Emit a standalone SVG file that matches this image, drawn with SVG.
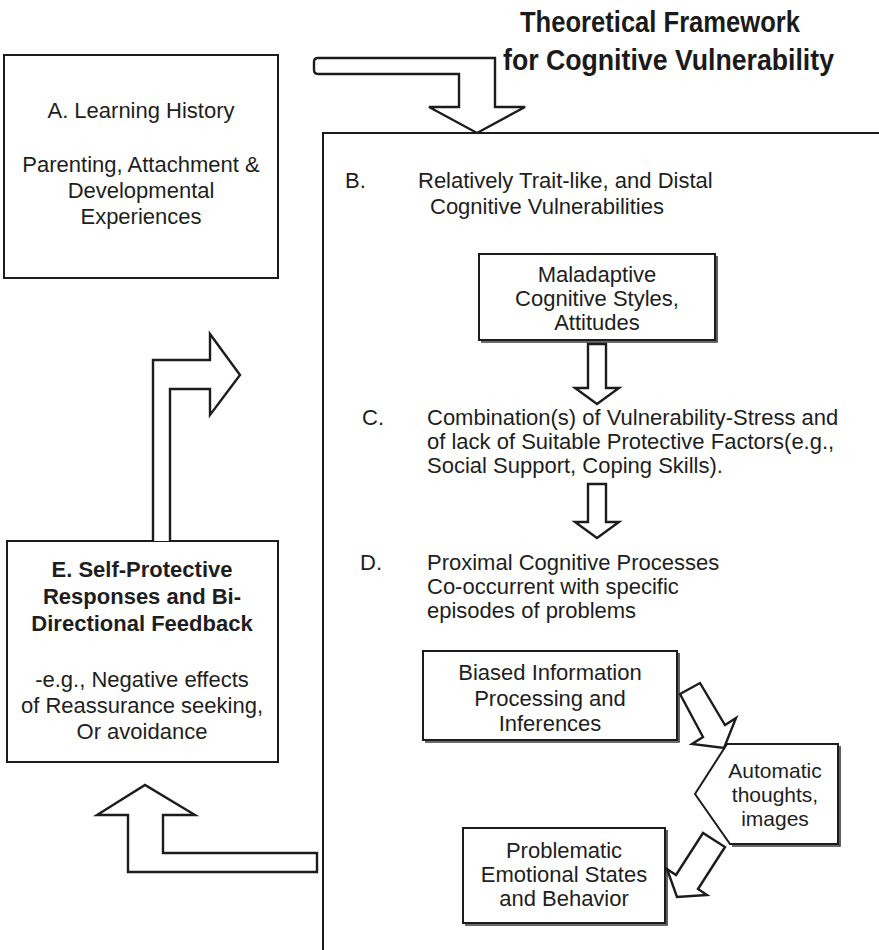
<svg xmlns="http://www.w3.org/2000/svg" width="879" height="950" viewBox="0 0 879 950">
  <style>
    .bg { fill: #ffffff; }
    .box { fill: #ffffff; stroke: #1c1c1c; stroke-width: 2; }
    .edge { fill: none; stroke: #3a3a3a; stroke-width: 1.6; }
    .frame { fill: none; stroke: #1c1c1c; stroke-width: 2; }
    .blk { fill: #ffffff; stroke: #1c1c1c; stroke-width: 2.4; stroke-linejoin: miter; }
    .t { font-family: "Liberation Sans", Arial, Helvetica, sans-serif; font-size: 22px; fill: #1e1e1e; }
    .c { text-anchor: middle; }
    .b { font-weight: bold; }
    .title { font-family: "Liberation Sans", Arial, Helvetica, sans-serif; font-size: 29px; font-weight: bold; fill: #1a1a1a; }
    .sm { font-size: 21px; }
  </style>

  <rect class="bg" x="0" y="0" width="879" height="950"/>

  <!-- heading -->
  <g id="title">
    <text class="title" x="520" y="32" textLength="280" lengthAdjust="spacingAndGlyphs">Theoretical Framework</text>
    <text class="title" x="503" y="70" textLength="331" lengthAdjust="spacingAndGlyphs">for Cognitive Vulnerability</text>
  </g>

  <!-- A: learning history -->
  <g id="nodeA">
    <rect class="box" x="4" y="55" width="274" height="223"/>
    <text class="t c" x="141" y="118">A. Learning History</text>
    <text class="t c" x="141" y="172">Parenting, Attachment &amp;</text>
    <text class="t c" x="141" y="198">Developmental</text>
    <text class="t c" x="141" y="224">Experiences</text>
  </g>

  <!-- large open frame holding B, C, D -->
  <g id="frameBCD">
    <path class="frame" d="M323,950 V133 H879"/>
  </g>

  <!-- B: distal vulnerabilities -->
  <g id="nodeB">
    <text class="t" x="345" y="188">B.</text>
    <text class="t" x="418" y="188">Relatively Trait-like, and Distal</text>
    <text class="t" x="430" y="214">Cognitive Vulnerabilities</text>
  </g>

  <g id="nodeMaladaptive">
    <rect class="box" x="479" y="254" width="236" height="86"/>
    <path class="edge" d="M717,256 V342 H481"/>
    <text class="t c" x="597" y="282">Maladaptive</text>
    <text class="t c" x="597" y="306">Cognitive Styles,</text>
    <text class="t c" x="597" y="330">Attitudes</text>
  </g>

  <!-- C: vulnerability-stress combination -->
  <g id="nodeC">
    <text class="t" x="362" y="425">C.</text>
    <text class="t" x="427" y="425">Combination(s) of Vulnerability-Stress and</text>
    <text class="t" x="427" y="449">of lack of Suitable Protective Factors(e.g.,</text>
    <text class="t" x="427" y="473">Social Support, Coping Skills).</text>
  </g>

  <!-- D: proximal processes -->
  <g id="nodeD">
    <text class="t" x="360" y="570">D.</text>
    <text class="t" x="427" y="570">Proximal Cognitive Processes</text>
    <text class="t" x="427" y="594">Co-occurrent with specific</text>
    <text class="t" x="427" y="618">episodes of problems</text>
  </g>

  <g id="nodeBiased">
    <rect class="box" x="423" y="651" width="254" height="89"/>
    <path class="edge" d="M679,653 V742 H425"/>
    <text class="t c" x="550" y="680">Biased Information</text>
    <text class="t c" x="550" y="706">Processing and</text>
    <text class="t c" x="550" y="731">Inferences</text>
  </g>

  <g id="nodeAutomatic">
    <polygon class="box" points="727,744 838,744 838,844 730,844 695,794"/>
    <path class="edge" d="M840,746 V846 H732"/>
    <text class="t c sm" x="775" y="778">Automatic</text>
    <text class="t c sm" x="775" y="802">thoughts,</text>
    <text class="t c sm" x="775" y="826">images</text>
  </g>

  <g id="nodeProblematic">
    <rect class="box" x="463" y="828" width="202" height="95"/>
    <path class="edge" d="M667,830 V925 H465"/>
    <text class="t c" x="564" y="858">Problematic</text>
    <text class="t c" x="564" y="882">Emotional States</text>
    <text class="t c" x="564" y="906">and Behavior</text>
  </g>

  <!-- E: self-protective responses -->
  <g id="nodeE">
    <rect class="box" x="7" y="541" width="271" height="221"/>
    <text class="t c b" x="142" y="577">E. Self-Protective</text>
    <text class="t c b" x="142" y="604">Responses and Bi-</text>
    <text class="t c b" x="142" y="631">Directional Feedback</text>
    <text class="t c" x="142" y="687">-e.g., Negative effects</text>
    <text class="t c" x="142" y="713">of Reassurance seeking,</text>
    <text class="t c" x="142" y="739">Or avoidance</text>
  </g>

  <!-- block arrows -->
  <g id="connectors">
    <!-- A into the frame -->
    <path class="blk" d="M318,58 H495 V107 H525 L477,133 L429,107 H459 V74 H318 Q314,74 314,70 V62 Q314,58 318,58 Z"/>
    <!-- Maladaptive to C -->
    <path class="blk" d="M588,344 H606 V388 H619 L597,404 L575,388 H588 Z"/>
    <!-- C to D -->
    <path class="blk" d="M588,484 H606 V522 H619 L597,538 L575,522 H588 Z"/>
    <!-- Biased to Automatic -->
    <polygon class="blk" points="680,694 700,683 725,725 736,718 724,748 692,744 703,737"/>
    <!-- Automatic to Problematic -->
    <polygon class="blk" points="703,833 676,875 667,869 677,897 707,895 698,889 725,847"/>
    <!-- frame back to E -->
    <path class="blk" d="M317,853 H163 V815 H195 L145,785 L97,815 H128 V872 H317 Z"/>
    <!-- E back to A -->
    <path class="blk" d="M153,541 V360 H210 V334 L240,375 L210,415 V389 H170 V541"/>
  </g>
</svg>
